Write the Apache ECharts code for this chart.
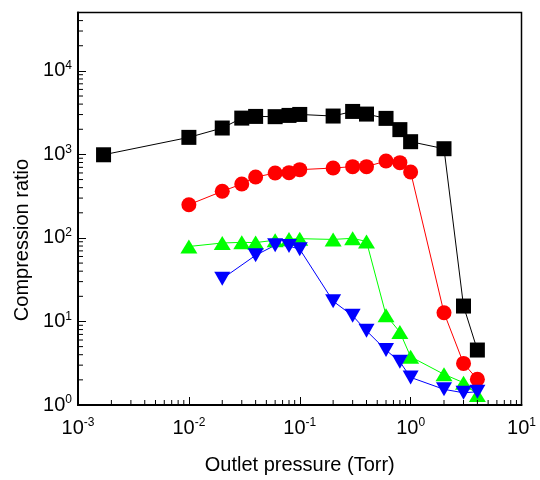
<!DOCTYPE html>
<html>
<head>
<meta charset="utf-8">
<script src="https://cdn.jsdelivr.net/npm/echarts@6.0.0/dist/echarts.min.js"></script>
<style>
  html, body { margin: 0; padding: 0; background: #fff; }
  #main { width: 540px; height: 480px; }
</style>
</head>
<body>
<div id="main"></div>
<script>
  // outlet pressure (Torr) and compression ratio
  const blackX = [0.0017, 0.01, 0.02, 0.03, 0.04, 0.06, 0.08, 0.1, 0.2, 0.3, 0.4, 0.6, 0.8, 1, 2, 3, 4]
  const blackY = [990, 1600, 2070, 2720, 2850, 2830, 2930, 3010, 2880, 3270, 3040, 2700, 1980, 1420, 1170, 15.3, 4.55]
  const redX = [0.01, 0.02, 0.03, 0.04, 0.06, 0.08, 0.1, 0.2, 0.3, 0.4, 0.6, 0.8, 1, 2, 3, 4]
  const redY = [250, 362, 442, 536, 598, 605, 657, 687, 714, 714, 833, 797, 615, 12.7, 3.15, 2.03]
  const greenX = [0.01, 0.02, 0.03, 0.04, 0.06, 0.08, 0.1, 0.2, 0.3, 0.4, 0.6, 0.8, 1, 2, 3, 4]
  const greenY = [79, 87, 88.5, 88, 94, 97, 98, 96, 99, 90.6, 11.9, 7.46, 3.78, 2.33, 1.85, 1.32]
  const blueX = [0.02, 0.04, 0.06, 0.08, 0.1, 0.2, 0.3, 0.4, 0.6, 0.8, 1, 2, 3, 4]
  const blueY = [32.5, 62, 81.8, 80, 73.3, 17.5, 11.7, 7.73, 4.54, 3.29, 2.14, 1.54, 1.40, 1.44]

  // axis ranges and minor tick positions (2..9 of every decade)
  const xMin = 0.001
  const xMax = 10
  const yMin = 1
  const yMax = 50000
  const minorSteps = [2, 3, 4, 5, 6, 7, 8, 9]
  const xDecades = [0.001, 0.01, 0.1, 1]
  const yDecades = [1, 10, 100, 1000, 10000]

  const font = 'Liberation Sans, Arial, sans-serif'

  const xMinor = []
  xDecades.forEach((d) => minorSteps.forEach((m) => xMinor.push(d * m)))
  const yMinor = []
  yDecades.forEach((d) => minorSteps.forEach((m) => {
    if (d * m < yMax) yMinor.push(d * m)
  }))

  const pair = (xs, ys) => xs.map((x, i) => [x, ys[i]])

  const powLabel = (v) => {
    const e = Math.log10(v)
    if (Math.abs(e - Math.round(e)) > 1e-6) return ''
    return '10{sup|' + Math.round(e) + '}'
  }

  const labelRich = {
    sup: {
      fontSize: 12,
      fontFamily: font,
      color: '#000',
      verticalAlign: 'top',
      lineHeight: 22,
    },
  }

  const lineSeries = (name, data, color, symbol, size, rotate) => ({
    name: name,
    type: 'line',
    data: data,
    symbol: symbol,
    symbolSize: size,
    symbolRotate: rotate || 0,
    lineStyle: { color: color, width: 1 },
    itemStyle: { color: color },
    z: 3,
  })

  const chart = echarts.init(document.getElementById('main'), null, { renderer: 'canvas' })

  const option = {
    animation: false,
    backgroundColor: '#fff',
    grid: {
      left: 78,
      right: 18.5,
      top: 12.5,
      bottom: 75,
      show: true,
      borderColor: '#000',
      borderWidth: 1.5,
      backgroundColor: 'transparent',
    },
    xAxis: {
      type: 'log',
      min: xMin,
      max: xMax,
      logBase: 10,
      name: 'Outlet pressure (Torr)',
      nameLocation: 'middle',
      nameGap: 50,
      nameTextStyle: { fontSize: 20, fontFamily: font, color: '#000' },
      axisLine: { show: true, onZero: false, lineStyle: { color: '#000', width: 2 } },
      axisTick: { show: true, inside: true, length: 8, lineStyle: { color: '#000', width: 1 } },
      splitLine: { show: false },
      axisLabel: {
        margin: 12,
        fontSize: 20,
        fontFamily: font,
        color: '#000',
        lineHeight: 22,
        formatter: powLabel,
        rich: labelRich,
      },
    },
    yAxis: {
      type: 'log',
      min: yMin,
      max: yMax,
      logBase: 10,
      axisLine: { show: true, onZero: false, lineStyle: { color: '#000', width: 2 } },
      axisTick: { show: true, inside: true, length: 8, lineStyle: { color: '#000', width: 1 } },
      splitLine: { show: false },
      axisLabel: {
        margin: 6,
        fontSize: 20,
        fontFamily: font,
        color: '#000',
        lineHeight: 22,
        formatter: powLabel,
        rich: labelRich,
      },
    },
    graphic: [
      {
        type: 'text',
        x: 22.5,
        y: 240,
        rotation: Math.PI / 2,
        style: {
          text: 'Compression ratio',
          font: '20px ' + font,
          fill: '#000',
          align: 'center',
          verticalAlign: 'middle',
        },
      },
    ],
    series: [
      lineSeries('black', pair(blackX, blackY), '#000000', 'rect', 15),
      lineSeries('red', pair(redX, redY), '#ff0000', 'circle', 15),
      lineSeries('green', pair(greenX, greenY), '#00ff00', 'triangle', [17, 14]),
      lineSeries('blue', pair(blueX, blueY), '#0000ff', 'triangle', [16, 14], 180),
      {
        // minor ticks along the bottom axis
        type: 'custom',
        silent: true,
        clip: false,
        z: 5,
        data: xMinor.map((v) => [v, yMin]),
        renderItem: (params, api) => {
          const p = api.coord([api.value(0), api.value(1)])
          return {
            type: 'line',
            shape: { x1: p[0], y1: p[1], x2: p[0], y2: p[1] - 5 },
            style: { stroke: '#000', lineWidth: 1 },
          }
        },
      },
      {
        // minor ticks along the left axis
        type: 'custom',
        silent: true,
        clip: false,
        z: 5,
        data: yMinor.map((v) => [xMin, v]),
        renderItem: (params, api) => {
          const p = api.coord([api.value(0), api.value(1)])
          return {
            type: 'line',
            shape: { x1: p[0], y1: p[1], x2: p[0] + 5, y2: p[1] },
            style: { stroke: '#000', lineWidth: 1 },
          }
        },
      },
    ],
  }

  chart.setOption(option)
</script>
</body>
</html>
